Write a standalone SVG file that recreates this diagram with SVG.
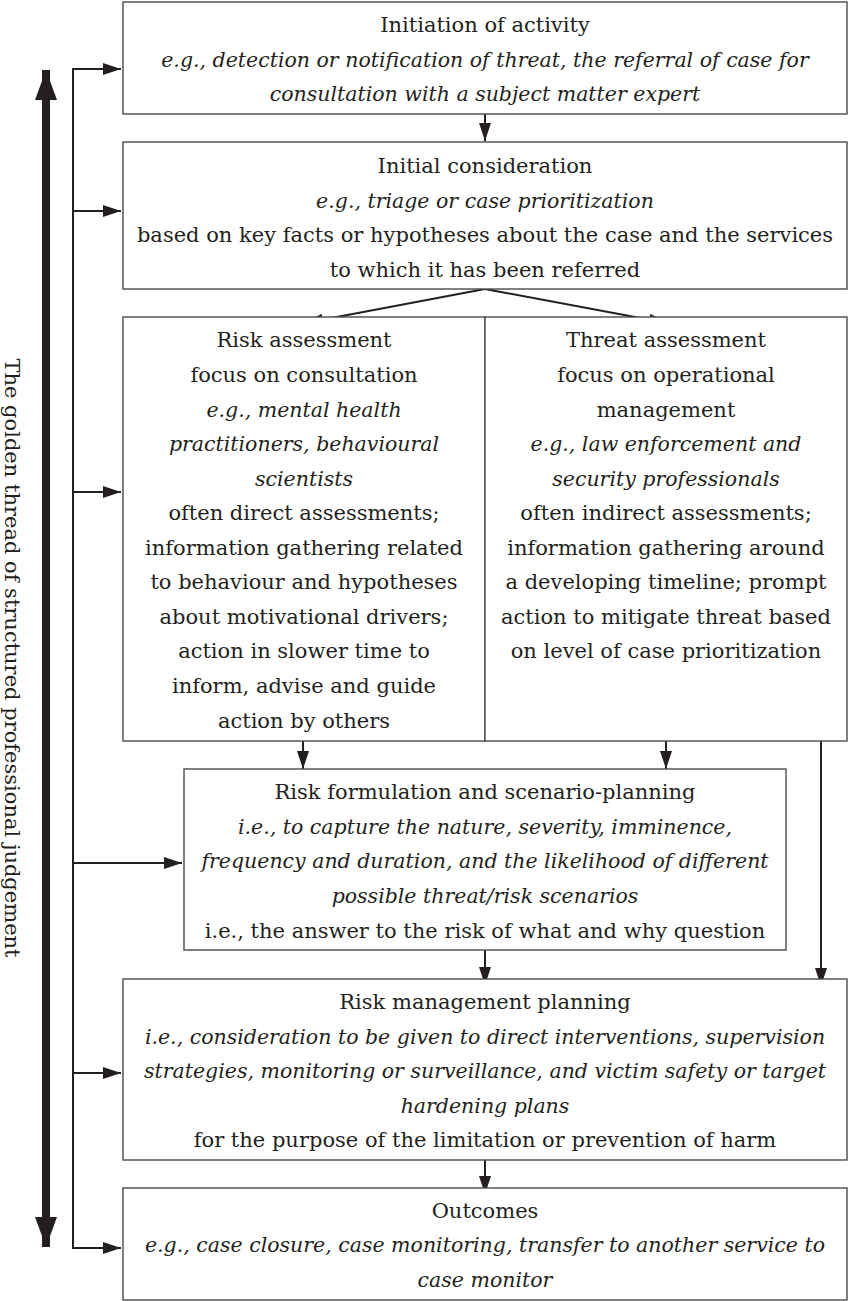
<svg xmlns="http://www.w3.org/2000/svg" width="848" height="1301" viewBox="0 0 848 1301">
<style>
  .box { fill: #ffffff; stroke: #4a4a4a; stroke-width: 1.4; }
  .t { font-family: "DejaVu Serif", "Liberation Serif", serif; font-size: 21px; fill: #231f20; text-anchor: middle; }
  .i { font-style: italic; font-size: 20.5px; }
  .c { fill: none; stroke: #231f20; stroke-width: 2; }
  .thick { fill: none; stroke: #231f20; stroke-width: 8; }
</style>
<defs>
  <marker id="ah" markerUnits="userSpaceOnUse" markerWidth="18" markerHeight="12" refX="18" refY="6" orient="auto">
    <path d="M0,0 L18,6 L0,12 z" fill="#231f20"/>
  </marker>
  <marker id="big" markerUnits="userSpaceOnUse" markerWidth="30" markerHeight="22" refX="30" refY="11" orient="auto">
    <path d="M0,0 L30,11 L0,22 z" fill="#231f20"/>
  </marker>
</defs>
<rect width="848" height="1301" fill="#ffffff"/>

<g id="connectors">
  <line class="thick" x1="46" y1="658" x2="46" y2="70" marker-end="url(#big)"/>
  <line class="thick" x1="46" y1="658" x2="46" y2="1247" marker-end="url(#big)"/>
  <line class="c" x1="73" y1="68" x2="73" y2="1249"/>
  <line class="c" x1="72" y1="69" x2="121" y2="69" marker-end="url(#ah)"/>
  <line class="c" x1="72" y1="211" x2="121" y2="211" marker-end="url(#ah)"/>
  <line class="c" x1="72" y1="492" x2="121" y2="492" marker-end="url(#ah)"/>
  <line class="c" x1="72" y1="863" x2="182" y2="863" marker-end="url(#ah)"/>
  <line class="c" x1="72" y1="1073" x2="121" y2="1073" marker-end="url(#ah)"/>
  <line class="c" x1="72" y1="1248" x2="121" y2="1248" marker-end="url(#ah)"/>
  <line class="c" x1="485" y1="114" x2="485" y2="141" marker-end="url(#ah)"/>
  <line class="c" x1="485" y1="289" x2="305" y2="323" marker-end="url(#ah)"/>
  <line class="c" x1="485" y1="289" x2="667" y2="323" marker-end="url(#ah)"/>
  <line class="c" x1="303" y1="741" x2="303" y2="769" marker-end="url(#ah)"/>
  <line class="c" x1="666" y1="741" x2="666" y2="769" marker-end="url(#ah)"/>
  <line class="c" x1="821" y1="741" x2="821" y2="986" marker-end="url(#ah)"/>
  <line class="c" x1="485" y1="950" x2="485" y2="985" marker-end="url(#ah)"/>
  <line class="c" x1="485" y1="1160" x2="485" y2="1194" marker-end="url(#ah)"/>
</g>

<g id="label-golden-thread">
  <text class="t" transform="translate(12,658) rotate(90)" x="0" y="7">The golden thread of structured professional judgement</text>
</g>

<g id="node-initiation">
  <rect class="box" x="123" y="2" width="724" height="112"/>
  <text class="t" x="485" y="32">Initiation of activity</text>
  <text class="t i" x="485" y="67">e.g., detection or notification of threat, the referral of case for</text>
  <text class="t i" x="485" y="101">consultation with a subject matter expert</text>
</g>

<g id="node-initial-consideration">
  <rect class="box" x="123" y="142" width="724" height="147"/>
  <text class="t" x="485" y="173">Initial consideration</text>
  <text class="t i" x="485" y="208">e.g., triage or case prioritization</text>
  <text class="t" x="485" y="242">based on key facts or hypotheses about the case and the services</text>
  <text class="t" x="485" y="277">to which it has been referred</text>
</g>

<g id="node-risk-assessment">
  <rect class="box" x="123" y="317" width="362" height="424"/>
  <text class="t" x="304" y="347">Risk assessment</text>
  <text class="t" x="304" y="382">focus on consultation</text>
  <text class="t i" x="304" y="417">e.g., mental health</text>
  <text class="t i" x="304" y="451">practitioners, behavioural</text>
  <text class="t i" x="304" y="486">scientists</text>
  <text class="t" x="304" y="520">often direct assessments;</text>
  <text class="t" x="304" y="555">information gathering related</text>
  <text class="t" x="304" y="589">to behaviour and hypotheses</text>
  <text class="t" x="304" y="624">about motivational drivers;</text>
  <text class="t" x="304" y="658">action in slower time to</text>
  <text class="t" x="304" y="693">inform, advise and guide</text>
  <text class="t" x="304" y="728">action by others</text>
</g>

<g id="node-threat-assessment">
  <rect class="box" x="485" y="317" width="362" height="424"/>
  <text class="t" x="666" y="347">Threat assessment</text>
  <text class="t" x="666" y="382">focus on operational</text>
  <text class="t" x="666" y="417">management</text>
  <text class="t i" x="666" y="451">e.g., law enforcement and</text>
  <text class="t i" x="666" y="486">security professionals</text>
  <text class="t" x="666" y="520">often indirect assessments;</text>
  <text class="t" x="666" y="555">information gathering around</text>
  <text class="t" x="666" y="589">a developing timeline; prompt</text>
  <text class="t" x="666" y="624">action to mitigate threat based</text>
  <text class="t" x="666" y="658">on level of case prioritization</text>
</g>

<g id="node-risk-formulation">
  <rect class="box" x="184" y="769" width="602" height="181"/>
  <text class="t" x="485" y="799">Risk formulation and scenario-planning</text>
  <text class="t i" x="485" y="834">i.e., to capture the nature, severity, imminence,</text>
  <text class="t i" x="485" y="868">frequency and duration, and the likelihood of different</text>
  <text class="t i" x="485" y="903">possible threat/risk scenarios</text>
  <text class="t" x="485" y="938">i.e., the answer to the risk of what and why question</text>
</g>

<g id="node-risk-management">
  <rect class="box" x="123" y="979" width="724" height="181"/>
  <text class="t" x="485" y="1009">Risk management planning</text>
  <text class="t i" x="485" y="1044">i.e., consideration to be given to direct interventions, supervision</text>
  <text class="t i" x="485" y="1078">strategies, monitoring or surveillance, and victim safety or target</text>
  <text class="t i" x="485" y="1113">hardening plans</text>
  <text class="t" x="485" y="1147">for the purpose of the limitation or prevention of harm</text>
</g>

<g id="node-outcomes">
  <rect class="box" x="123" y="1188" width="724" height="112"/>
  <text class="t" x="485" y="1218">Outcomes</text>
  <text class="t i" x="485" y="1252">e.g., case closure, case monitoring, transfer to another service to</text>
  <text class="t i" x="485" y="1287">case monitor</text>
</g>
</svg>
